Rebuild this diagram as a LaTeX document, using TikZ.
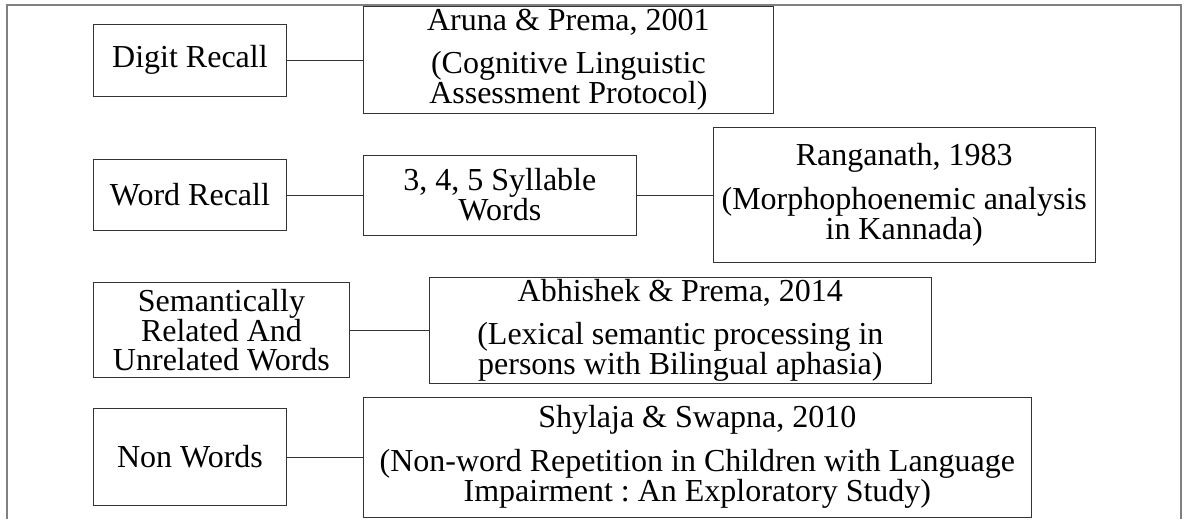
\documentclass[tikz,border=0pt]{standalone}
\usepackage{fontspec}
\setmainfont{Liberation Serif}
\usetikzlibrary{positioning}
\frenchspacing

\begin{document}
\begin{tikzpicture}[x=1pt, y=-1pt, font=\fontsize{32}{29}\selectfont, node distance=76pt, box/.style={draw=black!80, line width=0.9pt, inner sep=0pt, align=center}]
\useasboundingbox (0,0) rectangle (1185,519);
\draw[black!50, line width=1.6pt] (7,519) -- (7,5) -- (1181,5) -- (1181,519);
\node[box, minimum width=193pt, minimum height=72pt, anchor=west] (digit) at (93,60) {Digit Recall};
\node[box, minimum width=410pt, minimum height=107pt, right=of digit] (aruna) {Aruna \& Prema, 2001\\[14pt](Cognitive Linguistic\\Assessment Protocol)};
\node[box, minimum width=193pt, minimum height=71pt, anchor=west] (word) at (93,195) {Word Recall};
\node[box, minimum width=273pt, minimum height=80pt, right=of word] (syll) {3, 4, 5 Syllable\\Words};
\node[box, minimum width=382pt, minimum height=135pt, right=of syll] (rang) {Ranganath, 1983\\[14pt](Morphophoenemic analysis\\in Kannada)};
\node[box, minimum width=256pt, minimum height=95pt, anchor=west] (sem) at (93,330) {Semantically\\Related And\\Unrelated Words};
\node[box, minimum width=502pt, minimum height=106pt, right=79pt of sem] (abhi) {Abhishek \& Prema, 2014\\[14pt](Lexical semantic processing in\\persons with Bilingual aphasia)};
\node[box, minimum width=193pt, minimum height=97pt, anchor=west] (nonw) at (93,457) {Non Words};
\node[box, minimum width=668pt, minimum height=120pt, right=of nonw] (shyl) {Shylaja \& Swapna, 2010\\[14pt](Non-word Repetition in Children with Language\\Impairment : An Exploratory Study)};
\draw[black!80, line width=0.9pt] (digit) -- (aruna); \draw[black!80, line width=0.9pt] (word) -- (syll); \draw[black!80, line width=0.9pt] (syll) -- (rang); \draw[black!80, line width=0.9pt] (sem) -- (abhi); \draw[black!80, line width=0.9pt] (nonw) -- (shyl);
\end{tikzpicture}
\end{document}
